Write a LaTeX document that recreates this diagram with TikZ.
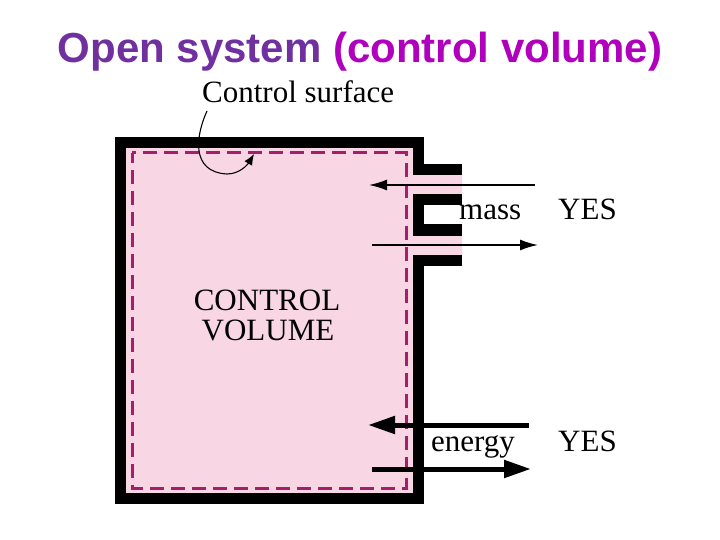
\documentclass[tikz,border=0pt]{standalone}
\usepackage{fontspec}
\setmainfont{Liberation Serif}
\setsansfont{Liberation Sans}
\usetikzlibrary{arrows.meta}
\definecolor{cvpink}{RGB}{248,214,228}
\definecolor{csline}{RGB}{163,31,110}
\definecolor{titlepurple}{RGB}{112,48,160}
\definecolor{titlemagenta}{RGB}{176,0,190}
\tikzset{
  wall/.style={line width=11pt, line join=miter, line cap=butt, black},
  surf/.style={csline, line width=3pt, dash pattern=on 14pt off 7pt, dash phase=4pt},
  lbl/.style={anchor=base west, inner sep=0pt, font=\fontsize{31}{31}\selectfont},
  thinarrow/.style={line width=1.6pt, -{Latex[length=18pt,width=11pt]}},
  thickarrow/.style={line width=5pt, -{Triangle[length=27pt,width=17pt]}},
  ptr/.style={line width=1.1pt, -{Latex[length=11pt,width=9pt]}}
}
\begin{document}
\begin{tikzpicture}[x=1pt,y=-1pt]
\fill[white] (0,0) rectangle (720,540);
\useasboundingbox (0,0) rectangle (720,540);
% pink control volume region
\fill[cvpink] (120,143) -- (418,143) -- (418,170) -- (462,170) -- (462,260) -- (418,260) -- (418,498) -- (120,498) -- cycle;
\fill[white] (418,200) rectangle (462,230);
% control surface
\draw[surf] (132,153) rectangle (406,488);
% walls
\draw[wall] (462,260) -- (418,260) -- (418,498) -- (120,498) -- (120,143) -- (418,143) -- (418,170) -- (462,170);
\draw[wall] (462,200) -- (418,200) -- (418,230) -- (462,230);
% title
\node[anchor=base, inner sep=0pt, font=\sffamily\bfseries\fontsize{42}{42}\selectfont] (title) at (360,63) {\color{titlepurple}Open system \color{titlemagenta}(control volume)};
% labels
\node[lbl] (cs) at (202,103) {Control surface};
\node[lbl] (mass) at (459,220) {mass};
\node[lbl] (yes1) at (558,220) {YES};
\node[lbl] (energy) at (431,451) {energy};
\node[lbl] (yes2) at (558,451) {YES};
\node[anchor=base, inner sep=0pt, font=\fontsize{31}{31}\selectfont] (cv1) at (267,310) {CONTROL};
\node[anchor=base, inner sep=0pt, font=\fontsize{31}{31}\selectfont] (cv2) at (268,340) {VOLUME};
% mass arrows
\coordinate (mi1) at (535,185); \coordinate (mi2) at (369,185);
\coordinate (mo1) at (372,245); \coordinate (mo2) at (538,245);
\draw[thinarrow] (mi1) -- (mi2);
\draw[thinarrow] (mo1) -- (mo2);
% energy arrows
\coordinate (ei1) at (529,425); \coordinate (ei2) at (368,425);
\coordinate (eo1) at (372,469); \coordinate (eo2) at (531,469);
\draw[thickarrow] (ei1) -- (ei2);
\draw[thickarrow] (eo1) -- (eo2);
% pointer from label to control surface
\coordinate (pstart) at (207,111);
\coordinate (ptip) at (254,154);
\draw[ptr] (pstart) .. controls (196,135) and (190,172) .. (227,174) .. controls (240,174) and (248,164) .. (ptip);
\end{tikzpicture}
\end{document}
